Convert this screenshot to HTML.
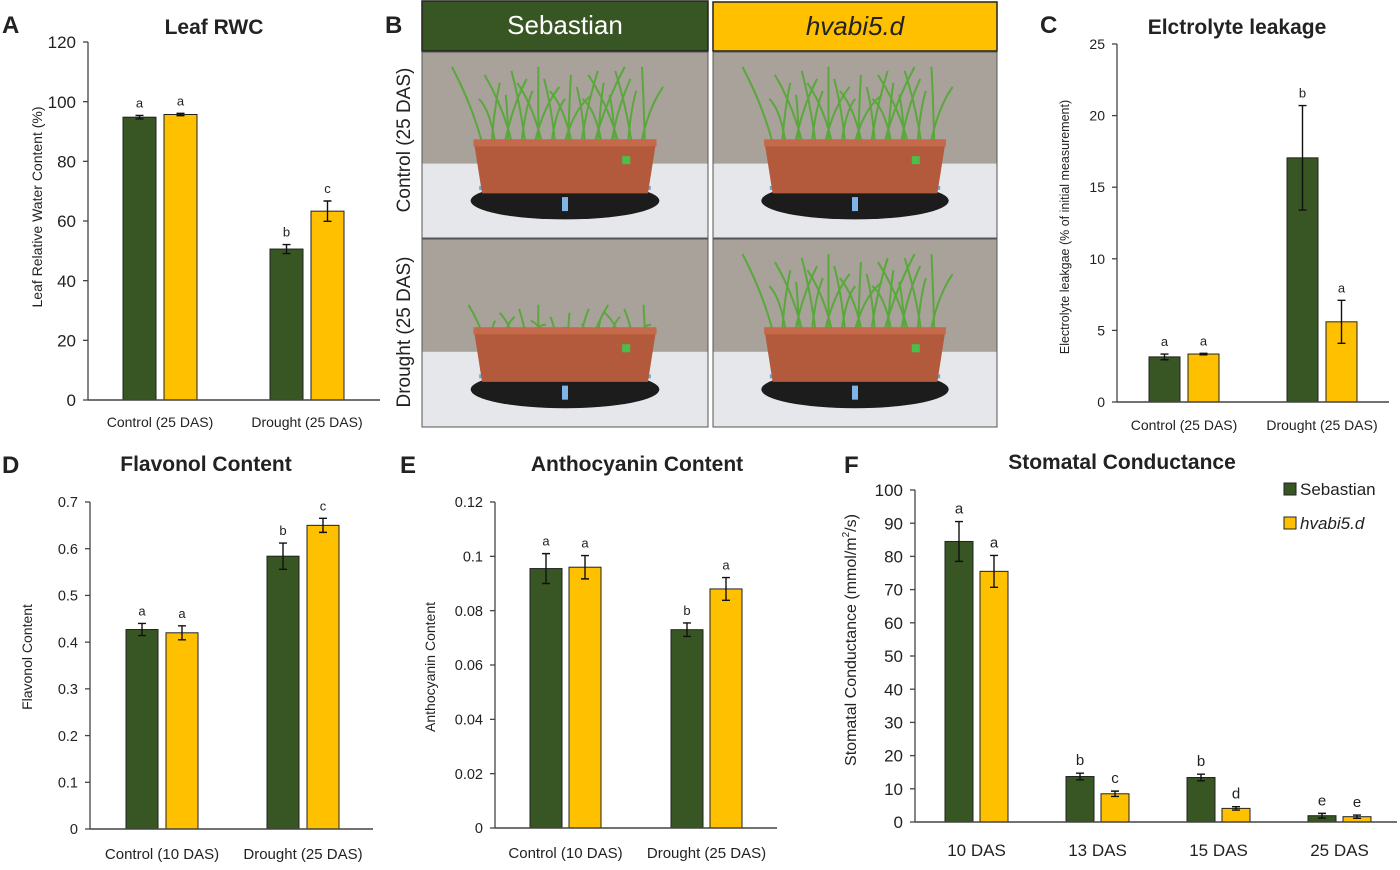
<!DOCTYPE html>
<html><head><meta charset="utf-8">
<style>
html,body{margin:0;padding:0;background:#fff;}
svg text{font-family:"Liberation Sans",sans-serif;fill:#222;}
</style></head>
<body>
<svg id="fig" width="1400" height="865" viewBox="0 0 1400 865" xmlns="http://www.w3.org/2000/svg">
  <!-- Panel B photos -->
  <g>
    <text x="385" y="33" font-size="24" font-weight="bold">B</text>
    <rect x="422" y="1" width="286" height="50" fill="#375623" stroke="#222" stroke-width="1.5"/>
    <text x="565" y="34" font-size="26" fill="#fff" style="fill:#fff" text-anchor="middle">Sebastian</text>
    <rect x="713" y="2" width="284" height="49" fill="#FFC000" stroke="#222" stroke-width="1.5"/>
    <text x="855" y="35" font-size="26" font-style="italic" text-anchor="middle">hvabi5.d</text>
    <text transform="translate(410,140) rotate(-90)" font-size="19" text-anchor="middle">Control (25 DAS)</text>
    <text transform="translate(410,332) rotate(-90)" font-size="19" text-anchor="middle">Drought (25 DAS)</text>
    <g id="photos"></g>
  </g>
  <g id="charts"></g>
</svg>
<script>
const NS="http://www.w3.org/2000/svg";
const GREEN="#375623", YELLOW="#FFC000";

// Panel A data
const aCategories=["Control (25 DAS)","Drought (25 DAS)"];
const aSebastian=[94.8,50.6];
const aSebastianErr=[0.6,1.5];
const aHvabi=[95.7,63.3];
const aHvabiErr=[0.4,3.4];
const aLetters=[["a","b"],["a","c"]];
const aTicks=[0,20,40,60,80,100,120];

// Panel C data
const cCategories=["Control (25 DAS)","Drought (25 DAS)"];
const cSebastian=[3.15,17.05];
const cSebastianErr=[0.2,3.65];
const cHvabi=[3.35,5.6];
const cHvabiErr=[0.05,1.5];
const cLetters=[["a","b"],["a","a"]];
const cTicks=[0,5,10,15,20,25];

// Panel D data
const dCategories=["Control (10 DAS)","Drought (25 DAS)"];
const dSebastian=[0.427,0.584];
const dSebastianErr=[0.013,0.028];
const dHvabi=[0.42,0.65];
const dHvabiErr=[0.015,0.015];
const dLetters=[["a","b"],["a","c"]];
const dTicks=[0,0.1,0.2,0.3,0.4,0.5,0.6,0.7];

// Panel E data
const eCategories=["Control (10 DAS)","Drought (25 DAS)"];
const eSebastian=[0.0955,0.073];
const eSebastianErr=[0.0055,0.0025];
const eHvabi=[0.096,0.088];
const eHvabiErr=[0.0043,0.0042];
const eLetters=[["a","b"],["a","a"]];
const eTicks=[0,0.02,0.04,0.06,0.08,0.1,0.12];

// Panel F data
const fCategories=["10 DAS","13 DAS","15 DAS","25 DAS"];
const fSebastian=[84.5,13.7,13.4,1.9];
const fSebastianErr=[6,1,1,0.7];
const fHvabi=[75.5,8.5,4.1,1.6];
const fHvabiErr=[4.8,0.8,0.5,0.5];
const fLetters=[["a","b","b","e"],["a","c","d","e"]];
const fTicks=[0,10,20,30,40,50,60,70,80,90,100];

const root=document.getElementById('charts');
function el(tag,attrs,parent){const e=document.createElementNS(NS,tag);for(const k in attrs)e.setAttribute(k,attrs[k]);(parent||root).appendChild(e);return e;}

function panel(p){
  const g=el('g',{});
  
  
  const max=p.ticks[p.ticks.length-1];
  const y=v=>p.y0-(v/max)*(p.y0-p.yTop);
  // letter label
  const L=el('text',{x:p.lx,y:p.ly,'font-size':24,'font-weight':'bold'},g);L.textContent=p.id.toUpperCase();
  
  
  const T=el('text',{x:p.tx,y:p.ty,'font-size':p.titleSize||21,'font-weight':'bold','text-anchor':'middle'},g);T.textContent=p.title;
  
  
  // axes
  const ya=el('line',{x1:p.x0,y1:p.yTop,x2:p.x0,y2:p.y0,stroke:'#444','stroke-width':1.3},g);
  
  
  p.ticks.forEach(t=>{
    el('line',{x1:p.x0-5,y1:y(t),x2:p.x0,y2:y(t),stroke:'#444','stroke-width':1.3},g);
    const tx=el('text',{x:p.x0-12,y:y(t)+p.tickSize*0.36,'font-size':p.tickSize,'text-anchor':'end',fill:'#333'},g);
    tx.textContent=String(t);
    
    
  });
  const yt=el('text',{transform:`translate(${p.ytx},${p.yty}) rotate(-90)`,'font-size':p.ytSize,'text-anchor':'middle'},g);
  yt.innerHTML=p.yTitle;
  
  
  const n=p.cats.length;
  const xs=i=>p.firstBar+i*p.step;
  const series=[[p.s1,p.e1,GREEN],[p.s2,p.e2,YELLOW]];
  series.forEach((s,si)=>{
    s[0].forEach((v,i)=>{
      const bx=xs(i)+si*(p.bw+p.gap);
      const r=el('rect',{x:bx,y:y(v),width:p.bw,height:p.y0-y(v),fill:s[2],stroke:'#222','stroke-width':1},g);
      
      
      const cx=bx+p.bw/2, hi=y(v+s[1][i]), lo=y(v-s[1][i]);
      const eb=el('path',{d:`M${cx},${hi}V${lo}M${cx-4},${hi}H${cx+4}M${cx-4},${lo}H${cx+4}`,stroke:'#111','stroke-width':1.4,fill:'none'},g);
      
      
      const lt=el('text',{x:cx,y:hi-8,'font-size':p.letSize||13,'text-anchor':'middle',fill:'#333'},g);
      lt.textContent=p.letters[si][i];
      
      
    });
  });
  const xa=el('line',{x1:p.x0,y1:p.y0,x2:p.xEnd,y2:p.y0,stroke:'#444','stroke-width':1.5},g);
  
  
  p.cats.forEach((c,i)=>{
    const t=el('text',{x:xs(i)+p.bw+p.gap/2,y:p.xly,'font-size':p.xlSize,'text-anchor':'middle',fill:'#333'},g);
    t.textContent=c;
    
    
  });
}

panel({id:'a',title:'Leaf RWC',tx:214,ty:34,lx:2,ly:33,x0:88,xEnd:380,yTop:42,y0:400,ticks:aTicks,tickSize:17,
  ytx:42,yty:207,ytSize:14,yTitle:'Leaf Relative Water Content (%)',cats:aCategories,s1:aSebastian,e1:aSebastianErr,s2:aHvabi,e2:aHvabiErr,
  letters:aLetters,firstBar:123,step:147,bw:33,gap:8,xly:427,xlSize:14});
panel({id:'c',title:'Elctrolyte leakage',tx:1237,ty:34,lx:1040,ly:33,x0:1117,xEnd:1389,yTop:44,y0:402,ticks:cTicks,tickSize:14,
  ytx:1069,yty:227,ytSize:12.5,yTitle:'Electrolyte leakgae (% of initial measurement)',cats:cCategories,s1:cSebastian,e1:cSebastianErr,s2:cHvabi,e2:cHvabiErr,
  letters:cLetters,firstBar:1149,step:138,bw:31,gap:8,xly:430,xlSize:14});
panel({id:'d',title:'Flavonol Content',tx:206,ty:471,lx:2,ly:473,x0:90,xEnd:373,yTop:502,y0:829,ticks:dTicks,tickSize:14.5,
  ytx:32,yty:657,ytSize:14,yTitle:'Flavonol Content',cats:dCategories,s1:dSebastian,e1:dSebastianErr,s2:dHvabi,e2:dHvabiErr,
  letters:dLetters,firstBar:126,step:141,bw:32,gap:8,xly:859,xlSize:15});
panel({id:'e',title:'Anthocyanin Content',tx:637,ty:471,lx:400,ly:473,x0:495,xEnd:777,yTop:502,y0:828,ticks:eTicks,tickSize:14.5,
  ytx:435,yty:667,ytSize:14,yTitle:'Anthocyanin Content',cats:eCategories,s1:eSebastian,e1:eSebastianErr,s2:eHvabi,e2:eHvabiErr,
  letters:eLetters,firstBar:530,step:141,bw:32,gap:7,xly:858,xlSize:15});
panel({id:'f',title:'Stomatal Conductance',tx:1122,ty:469,lx:844,ly:473,x0:915,xEnd:1397,yTop:490,y0:822,ticks:fTicks,tickSize:17,
  ytx:856,yty:640,ytSize:16,yTitle:'Stomatal Conductance (mmol/m<tspan font-size="10" dy="-7">2</tspan><tspan dy="7">/s)</tspan>',cats:fCategories,s1:fSebastian,e1:fSebastianErr,s2:fHvabi,e2:fHvabiErr,
  letters:fLetters,firstBar:945,step:121,bw:28,gap:7,xly:856,xlSize:17,letSize:15});

// legend
const lg=el('g',{});


el('rect',{x:1284,y:483,width:12,height:12,fill:GREEN,stroke:'#222'},lg);
const l1=el('text',{x:1300,y:495,'font-size':17,fill:'#222'},lg);l1.textContent='Sebastian';


el('rect',{x:1284,y:517,width:12,height:12,fill:YELLOW,stroke:'#222'},lg);
const l2=el('text',{x:1300,y:529,'font-size':17,'font-style':'italic',fill:'#222'},lg);l2.textContent='hvabi5.d';



// photos
const ph=document.getElementById('photos');
function photo(x,y,w,h,tall,name){
  const g=el('g',{},ph);
  
  
  el('rect',{x:x,y:y,width:w,height:h,fill:'#a8a29b'},g);
  el('rect',{x:x,y:y+h*0.6,width:w,height:h*0.4,fill:'#e6e7ea'},g);
  const cx=x+w/2;
  el('ellipse',{cx:cx,cy:y+h*0.8,rx:w*0.33,ry:h*0.1,fill:'#1c1c1c'},g);
  el('rect',{x:cx-w*0.3,y:y+h*0.72,width:w*0.6,height:4,fill:'#6fa3d8'},g);
  // grass
  const top=y+h*(tall?0.08:0.35), base=y+h*0.55;
  let d='';
  for(let i=0;i<28;i++){const bx=cx-w*0.28+i*(w*0.56/27);const sway=((i*37)%23-11)*(tall?3:1.5);d+=`M${bx},${base}Q${bx+sway*0.3},${(top+base)/2} ${bx+sway},${top+((i*13)%9)*4}`;}
  el('path',{d:d,stroke:'#5aa83c','stroke-width':2,fill:'none'},g);
  el('path',{d:`M${cx-w*0.32},${y+h*0.47}H${cx+w*0.32}L${cx+w*0.29},${y+h*0.76}H${cx-w*0.29}Z`,fill:'#b35a3c'},g);
  el('rect',{x:cx-w*0.32,y:y+h*0.47,width:w*0.64,height:7,fill:'#c4694a'},g);
  el('rect',{x:cx+w*0.2,y:y+h*0.56,width:8,height:8,fill:'#49c04a'},g);
  el('rect',{x:cx-3,y:y+h*0.78,width:6,height:14,fill:'#7fb5e8'},g);
  el('rect',{x:x,y:y,width:w,height:h,fill:'none',stroke:'#555','stroke-width':1},g);
}
photo(422,52,286,186,true,'photo-sebastian-control');
photo(713,52,284,186,true,'photo-hvabi5-control');
photo(422,239,286,188,false,'photo-sebastian-drought');
photo(713,239,284,188,true,'photo-hvabi5-drought');
</script>
</body></html>
